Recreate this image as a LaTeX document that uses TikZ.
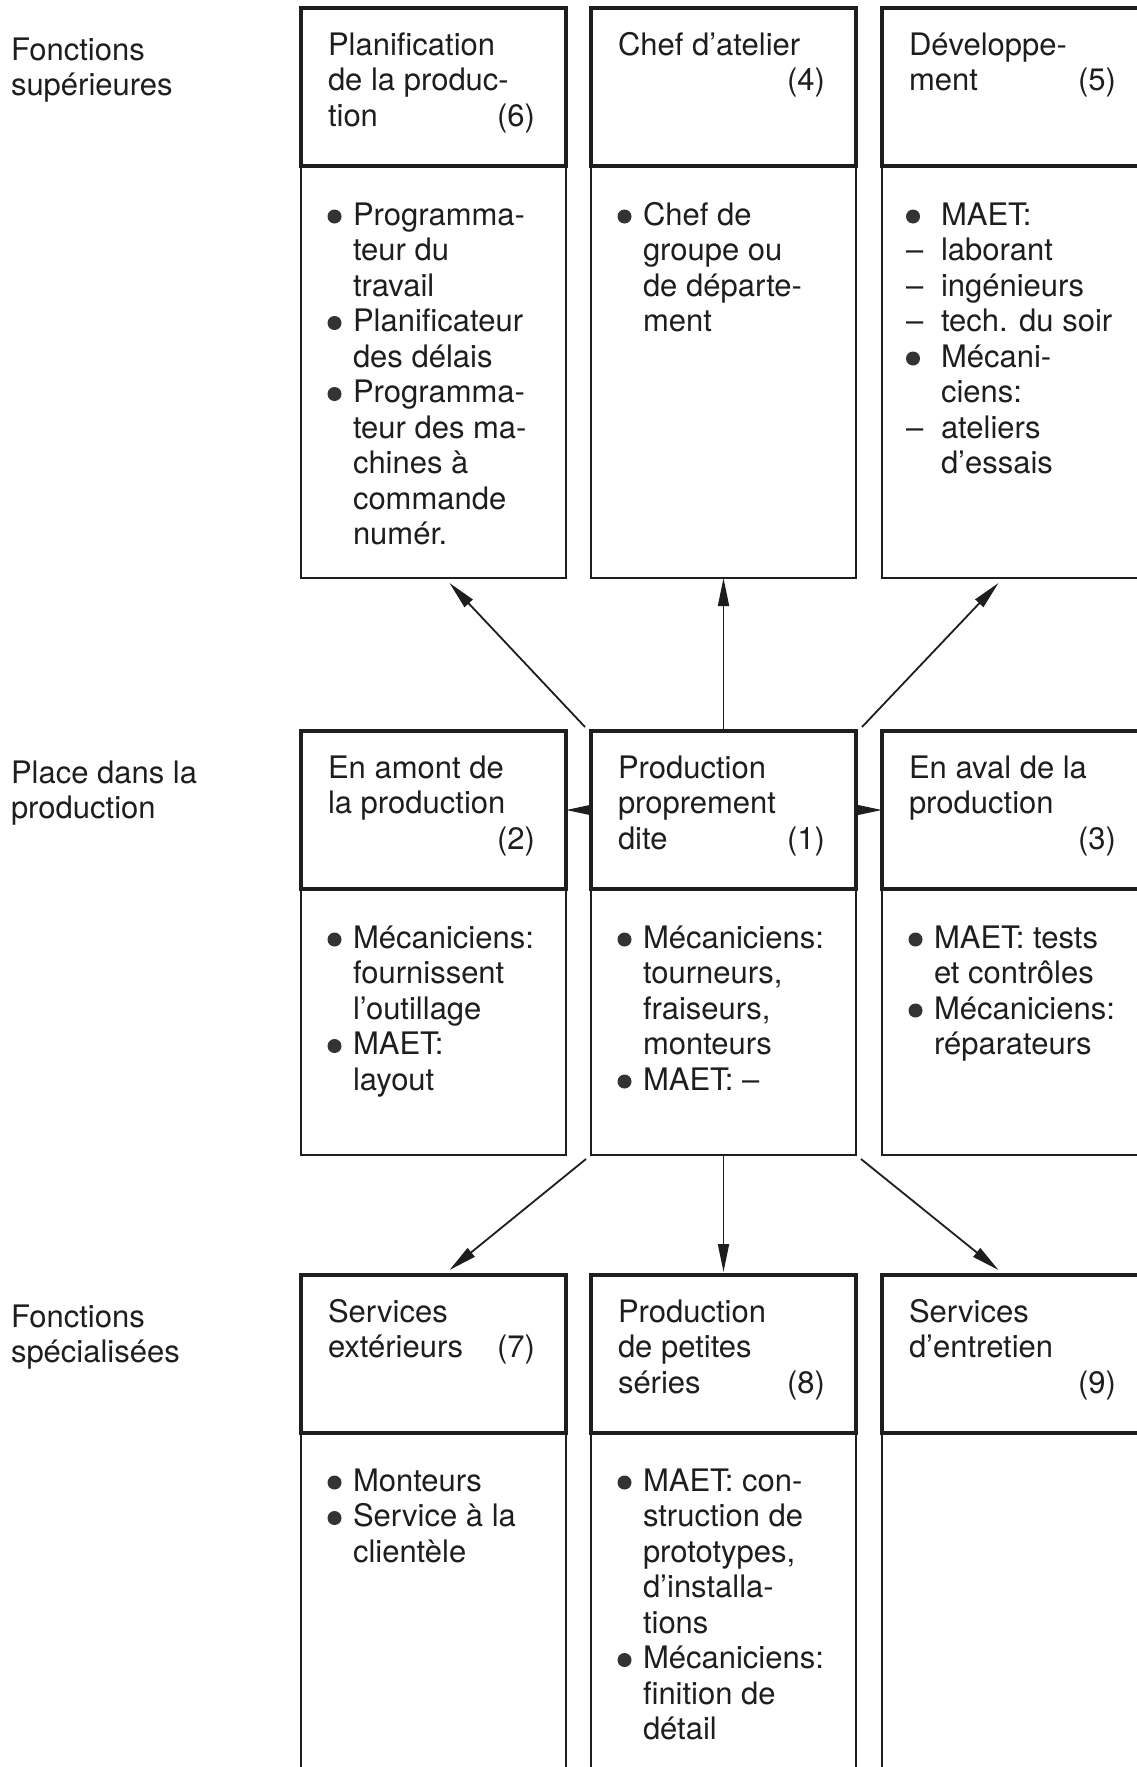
\documentclass[tikz,border=0pt]{standalone}
\usepackage{fontspec}
\setmainfont{TeX Gyre Heros}
\usetikzlibrary{arrows.meta}
\definecolor{ink}{HTML}{1E1E1E}
\definecolor{bulc}{HTML}{333333}
\newcommand\ml[1]{\parbox[t]{330pt}{#1}}
\begin{document}
\begin{tikzpicture}[x=1pt,y=-1pt,
  hdr/.style={draw=ink, line width=3.2pt, inner sep=0pt, outer sep=0pt, minimum width=265pt, minimum height=158pt, anchor=north west},
  bdy/.style={draw=ink, line width=2pt, inner sep=0pt, outer sep=0pt, minimum width=265pt, anchor=north west},
  txt/.style={anchor=base west, inner sep=0pt, outer sep=0pt, text=ink, font=\fontsize{31}{35.5}\selectfont},
  num/.style={anchor=base east, inner sep=0pt, outer sep=0pt, text=ink, font=\fontsize{31}{35.5}\selectfont},
  arr/.style={draw=ink, line width=1.8pt, -{Triangle[length=28pt,width=11pt]}},
  side/.style={draw=ink, line width=1.8pt, -{Triangle[length=25pt,width=10pt]}},
  bul/.style={fill=bulc}]
\fill[white] (0,0) rectangle (1136,1767);
\useasboundingbox (0,0) rectangle (1136,1767);

% row labels
\node[txt] (lab1) at (11,60) {\ml{Fonctions\\supérieures}};
\node[txt] (lab2) at (11,783) {\ml{Place dans la\\production}};
\node[txt] (lab3) at (11,1327) {\ml{Fonctions\\spécialisées}};

% bodies (drawn first)
\node[bdy, minimum height=412pt] (b6) at (301,166) {};
\node[bdy, minimum height=412pt] (b4) at (591,166) {};
\node[bdy, minimum height=412pt] (b5) at (882,166) {};
\node[bdy, minimum height=266pt] (b2) at (301,889) {};
\node[bdy, minimum height=266pt] (b1) at (591,889) {};
\node[bdy, minimum height=266pt] (b3) at (882,889) {};
\node[bdy, minimum height=358pt] (b7) at (301,1432) {};
\node[bdy, minimum height=358pt] (b8) at (591,1432) {};
\node[bdy, minimum height=358pt] (b9) at (882,1432) {};

% headers
\node[hdr] (h6) at (301,8) {};
\node[hdr] (h4) at (591,8) {};
\node[hdr] (h5) at (882,8) {};
\node[hdr] (h2) at (301,731) {};
\node[hdr] (h1) at (591,731) {};
\node[hdr] (h3) at (882,731) {};
\node[hdr] (h7) at (301,1275) {};
\node[hdr] (h8) at (591,1275) {};
\node[hdr] (h9) at (882,1275) {};

% header texts
\node[txt] (t6) at (328,55) {\ml{Planification\\de la produc-\\tion}};
\node[num] (n6) at (535,126) {(6)};
\node[txt] (t4) at (618,55) {\ml{Chef d’atelier}};
\node[num] (n4) at (825,90.5) {(4)};
\node[txt] (t5) at (909,55) {\ml{Développe-\\ment}};
\node[num] (n5) at (1116,90.5) {(5)};

\node[txt] (t2) at (328,778) {\ml{En amont de\\la production}};
\node[num] (n2) at (535,849) {(2)};
\node[txt] (t1) at (618,778) {\ml{Production\\proprement\\dite}};
\node[num] (n1) at (825,849) {(1)};
\node[txt] (t3) at (909,778) {\ml{En aval de la\\production}};
\node[num] (n3) at (1116,849) {(3)};

\node[txt] (t7) at (328,1322) {\ml{Services\\extérieurs}};
\node[num] (n7) at (535,1357.5) {(7)};
\node[txt] (t8) at (618,1322) {\ml{Production\\de petites\\séries}};
\node[num] (n8) at (825,1393) {(8)};
\node[txt] (t9) at (909,1322) {\ml{Services\\d’entretien}};
\node[num] (n9) at (1116,1393) {(9)};

% body texts
\node[txt] (c6) at (353,225) {\ml{Programma-\\teur du\\travail\\Planificateur\\des délais\\Programma-\\teur des ma-\\chines à\\commande\\numér.}};
\node[txt] (c4) at (643,225) {\ml{Chef de\\groupe ou\\de départe-\\ment}};
\node[txt] (c5) at (941,225) {\ml{MAET:\\laborant\\ingénieurs\\tech. du soir\\Mécani-\\ciens:\\ateliers\\d’essais}};
\node[txt] (d1) at (906,260.5) {–};
\node[txt] (d2) at (906,296) {–};
\node[txt] (d3) at (906,331.5) {–};
\node[txt] (d4) at (906,438) {–};

\node[txt] (c2) at (353,948) {\ml{Mécaniciens:\\fournissent\\l’outillage\\MAET:\\layout}};
\node[txt] (c1) at (643,948) {\ml{Mécaniciens:\\tourneurs,\\fraiseurs,\\monteurs\\MAET: –}};
\node[txt] (c3) at (934,948) {\ml{MAET: tests\\et contrôles\\Mécaniciens:\\réparateurs}};

\node[txt] (c7) at (353,1491) {\ml{Monteurs\\Service à la\\clientèle}};
\node[txt] (c8) at (643,1491) {\ml{MAET: con-\\struction de\\prototypes,\\d’installa-\\tions\\Mécaniciens:\\finition de\\détail}};

% bullets
\foreach \bx/\by in {334.5/216.5, 334.5/323, 334.5/394,
                     624.5/216.5,
                     913/216.5, 913/358.5,
                     334.5/939.5, 334.5/1046,
                     624.5/939.5, 624.5/1081.5,
                     915.5/939.5, 915.5/1010.5,
                     334.5/1482.5, 334.5/1518,
                     624.5/1482.5, 624.5/1660}
  \fill[bul] (\bx,\by) circle[radius=7pt];

% connector end points
\coordinate (us6) at ([shift={(-6,-4)}]h1.north west);
\coordinate (ue6) at ([shift={(16,5)}]b6.south);
\coordinate (us5) at ([shift={(6,-4)}]h1.north east);
\coordinate (ue5) at ([shift={(-16,5)}]b5.south);
\coordinate (ds7) at ([shift={(-5,4)}]b1.south west);
\coordinate (de7) at ([shift={(16,-5)}]h7.north);
\coordinate (ds9) at ([shift={(5,4)}]b1.south east);
\coordinate (de9) at ([shift={(-16,-5)}]h9.north);
\coordinate (de8) at ([shift={(0,-3)}]h8.north);

% connectors
\draw[arr] (us6) -- (ue6);
\draw[arr] (h1.north) -- (b4.south);
\draw[arr] (us5) -- (ue5);
\draw[arr] (ds7) -- (de7);
\draw[arr] (b1.south) -- (de8);
\draw[arr] (ds9) -- (de9);
\draw[side] (h1.west) -- (h2.east);
\draw[side] (h1.east) -- (h3.west);
\end{tikzpicture}
\end{document}
